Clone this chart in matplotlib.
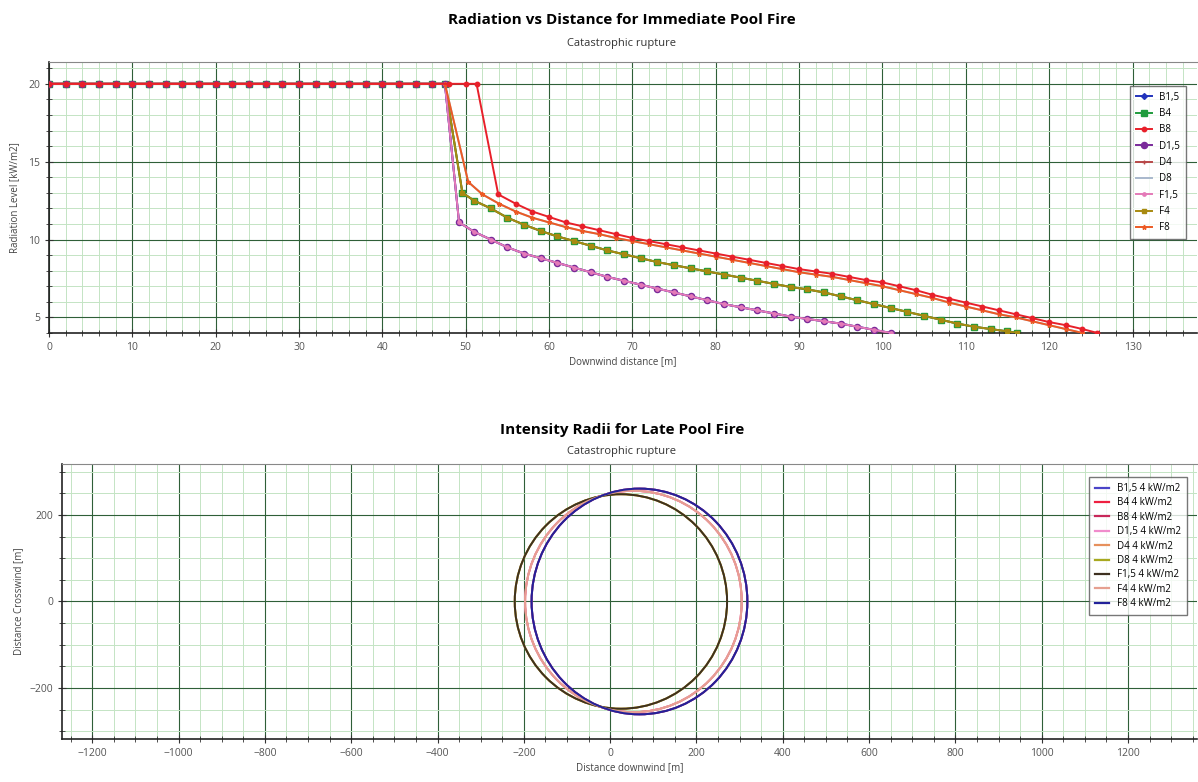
"""Radiation vs distance and intensity radii charts for a pool fire."""

import matplotlib
matplotlib.use('Agg')
import matplotlib.pyplot as plt  # pylint: disable=wrong-import-position
from matplotlib.patches import Ellipse  # pylint: disable=wrong-import-position
from matplotlib.ticker import MultipleLocator  # pylint: disable=wrong-import-position

plt.rcParams['font.family'] = ['Open Sans', 'DejaVu Sans']

# ---- data: radiation level [kW/m2] vs downwind distance [m] ----
WEATHER = ["B1,5", "B4", "B8", "D1,5", "D4", "D8", "F1,5", "F4", "F8"]

# plateau part (radiation capped at 20 kW/m2)
PLATEAU_X = [0, 2, 4, 6, 8, 10, 12, 14, 16, 18, 20, 22, 24, 26, 28, 30,
             32, 34, 36, 38, 40, 42, 44, 46]
PLATEAU_LEVEL = 20.0

# wind speed 1.5 m/s
W15_X = [47.5, 49.2, 51, 53, 55, 57, 59, 61, 63, 65, 67, 69, 71, 73, 75, 77,
         79, 81, 83, 85, 87, 89, 91, 93, 95, 97, 99, 101]
W15_Y = [20.0, 11.1, 10.5, 10.0, 9.5, 9.1, 8.8, 8.5, 8.2, 7.9, 7.6, 7.35, 7.1,
         6.85, 6.6, 6.35, 6.1, 5.85, 5.65, 5.45, 5.25, 5.05, 4.9, 4.75, 4.6,
         4.4, 4.2, 4.0]

# wind speed 4 m/s
W4_X = [47.5, 49.6, 51, 53, 55, 57, 59, 61, 63, 65, 67, 69, 71, 73, 75, 77,
        79, 81, 83, 85, 87, 89, 91, 93, 95, 97, 99, 101, 103, 105, 107, 109,
        111, 113, 115, 116.2]
W4_Y = [20.0, 13.0, 12.5, 12.0, 11.4, 10.95, 10.55, 10.2, 9.9, 9.6, 9.3, 9.05,
        8.8, 8.55, 8.35, 8.15, 7.95, 7.75, 7.55, 7.35, 7.15, 6.95, 6.8, 6.6,
        6.35, 6.1, 5.85, 5.6, 5.35, 5.1, 4.85, 4.6, 4.4, 4.25, 4.1, 4.0]

# wind speed 8 m/s (D8, F8)
W8_X = [47.5, 50.3, 52, 54, 56, 58, 60, 62, 64, 66, 68, 70, 72, 74, 76, 78,
        80, 82, 84, 86, 88, 90, 92, 94, 96, 98, 100, 102, 104, 106, 108, 110,
        112, 114, 116, 118, 120, 122, 124]
W8_Y = [20.0, 13.7, 12.9, 12.3, 11.8, 11.4, 11.1, 10.8, 10.55, 10.35, 10.1,
        9.9, 9.7, 9.5, 9.3, 9.1, 8.9, 8.7, 8.5, 8.3, 8.1, 7.9, 7.75, 7.6, 7.4,
        7.2, 7.0, 6.75, 6.5, 6.25, 5.95, 5.7, 5.45, 5.2, 5.0, 4.75, 4.5, 4.25,
        4.0]

# wind speed 8 m/s, stability B (flame base extends further)
B8_X = [48, 50, 51.3, 53.9, 56, 58, 60, 62, 64, 66, 68, 70, 72, 74, 76, 78,
        80, 82, 84, 86, 88, 90, 92, 94, 96, 98, 100, 102, 104, 106, 108, 110,
        112, 114, 116, 118, 120, 122, 124, 125.8]
B8_Y = [20.0, 20.0, 20.0, 12.9, 12.3, 11.8, 11.45, 11.1, 10.85, 10.6, 10.35,
        10.1, 9.9, 9.7, 9.5, 9.3, 9.1, 8.9, 8.7, 8.5, 8.3, 8.1, 7.95, 7.8, 7.6,
        7.4, 7.25, 7.0, 6.75, 6.45, 6.2, 5.95, 5.7, 5.45, 5.2, 4.95, 4.7, 4.5,
        4.25, 4.0]

CURVES = {
    "B1,5": (W15_X, W15_Y), "B4": (W4_X, W4_Y), "B8": (B8_X, B8_Y),
    "D1,5": (W15_X, W15_Y), "D4": (W4_X, W4_Y), "D8": (W8_X, W8_Y),
    "F1,5": (W15_X, W15_Y), "F4": (W4_X, W4_Y), "F8": (W8_X, W8_Y),
}

# colour, marker, marker size, drawing order
STYLE_TOP = {
    "B1,5": ('#2233bb', 'D', 3.0, 2.0), "B4": ('#1e9b3c', 's', 4.4, 2.5),
    "B8": ('#e8202a', 'o', 3.2, 3.0), "D1,5": ('#7a2a9a', 'o', 4.4, 2.7),
    "D4": ('#b84848', '+', 3.2, 2.2), "D8": ('#a8b8cc', '', 3.0, 2.1),
    "F1,5": ('#e47ab8', 'o', 2.4, 2.8), "F4": ('#a88a10', 's', 2.4, 2.6),
    "F8": ('#ec5a24', '*', 3.4, 2.95),
}

# ---- data: 4 kW/m2 intensity contour (centre x, half-width, half-height) [m] ----
RADII_CENTRE = [68, 54, 68, 54, 25, 25, 25, 54, 68]
RADII_HALF_W = [250, 251, 250, 251, 246, 246, 246, 251, 250]
RADII_HALF_H = [261, 256, 261, 256, 248, 248, 248, 256, 261]
COLOR_BOTTOM = ['#4a44c8', '#ee2040', '#c8285a', '#f08ccc', '#e6905c',
                '#a8a820', '#3e3020', '#e6a090', '#22229a']

MAJOR_GRID = '#2f5f38'
MINOR_GRID = '#c4e4c4'


def style_axes(ax):
    ax.set_facecolor('white')
    ax.grid(which='major', color=MAJOR_GRID, lw=0.8)
    ax.grid(which='minor', color=MINOR_GRID, lw=0.7)
    ax.set_axisbelow(True)
    ax.tick_params(which='both', direction='inout', colors='#333333',
                   labelcolor='#555555', labelsize=7.5)
    ax.tick_params(which='major', length=6)
    ax.tick_params(which='minor', length=4)
    ax.spines['right'].set_visible(False)
    ax.spines['top'].set_color('#888888')
    for side in ('left', 'bottom'):
        ax.spines[side].set_color('#222222')
        ax.spines[side].set_linewidth(1.2)


fig = plt.figure(figsize=(11.98, 7.82), dpi=100)

# ---------------- top chart ----------------
ax1 = fig.add_axes([0.0409, 0.5742, 0.958, 0.3465])
style_axes(ax1)
for name in WEATHER:
    color, marker, size, order = STYLE_TOP[name]
    xs, ys = CURVES[name]
    ax1.plot(PLATEAU_X + xs, [PLATEAU_LEVEL] * len(PLATEAU_X) + ys,
             color=color, lw=1.4, marker=marker or None, ms=size,
             mew=1.0, label=name, zorder=order)
ax1.set_xlim(0, 137.7)
ax1.set_ylim(4, 21.4)
ax1.xaxis.set_major_locator(MultipleLocator(10))
ax1.xaxis.set_minor_locator(MultipleLocator(2))
ax1.yaxis.set_major_locator(MultipleLocator(5))
ax1.yaxis.set_minor_locator(MultipleLocator(1))
ax1.set_xlabel('Downwind distance [m]', fontsize=7, color='#444444', labelpad=2)
ax1.set_ylabel('Radiation Level [kW/m2]', fontsize=7, color='#444444', labelpad=6)
leg1 = ax1.legend(loc='upper right', bbox_to_anchor=(0.995, 0.93), fontsize=7,
                  frameon=True, fancybox=False, edgecolor='#555555',
                  handlelength=1.6, labelspacing=0.55, borderpad=0.6)
leg1.get_frame().set_linewidth(1.0)
leg1.set_zorder(5)

fig.text(0.519, 0.974, 'Radiation vs Distance for Immediate Pool Fire',
         ha='center', va='center', fontsize=11, fontweight='bold')
fig.text(0.519, 0.945, 'Catastrophic rupture', ha='center', va='center',
         fontsize=8, color='#333333')

# ---------------- bottom chart ----------------
ax2 = fig.add_axes([0.0518, 0.0550, 0.9474, 0.3517])
style_axes(ax2)
for i, name in enumerate(WEATHER):
    ell = Ellipse((RADII_CENTRE[i], 0), 2 * RADII_HALF_W[i], 2 * RADII_HALF_H[i],
                  fill=False, edgecolor=COLOR_BOTTOM[i], lw=1.4)
    ax2.add_patch(ell)
    ax2.plot([], [], color=COLOR_BOTTOM[i], lw=1.6, label=f'{name} 4 kW/m2')
ax2.set_xlim(-1270, 1360)
ax2.set_ylim(-318, 318)
ax2.xaxis.set_major_locator(MultipleLocator(200))
ax2.xaxis.set_minor_locator(MultipleLocator(50))
ax2.yaxis.set_major_locator(MultipleLocator(200))
ax2.yaxis.set_minor_locator(MultipleLocator(50))
ax2.set_xlabel('Distance downwind [m]', fontsize=7, color='#444444', labelpad=2)
ax2.set_ylabel('Distance Crosswind [m]', fontsize=7, color='#444444', labelpad=4)
leg2 = ax2.legend(loc='upper right', bbox_to_anchor=(0.995, 0.97), fontsize=7,
                  frameon=True, fancybox=False, edgecolor='#555555',
                  handlelength=1.4, labelspacing=0.35, borderpad=0.6)
leg2.get_frame().set_linewidth(1.0)

fig.text(0.519, 0.450, 'Intensity Radii for Late Pool Fire',
         ha='center', va='center', fontsize=11, fontweight='bold')
fig.text(0.519, 0.423, 'Catastrophic rupture', ha='center', va='center',
         fontsize=8, color='#333333')

fig.savefig('out.png', dpi=100)
plt.close(fig)
